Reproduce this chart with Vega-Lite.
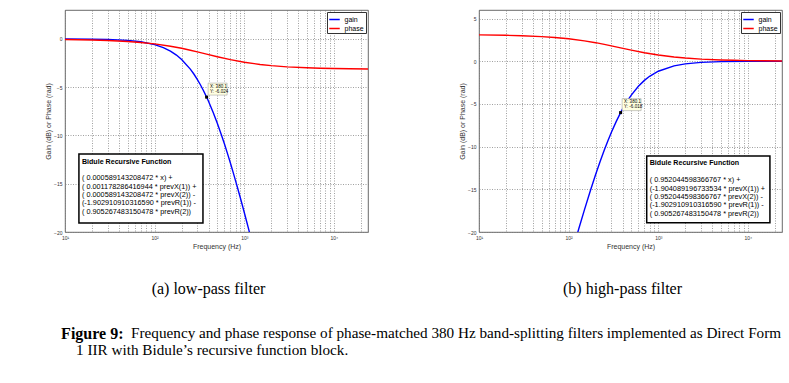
{
  "$schema": "https://vega.github.io/schema/vega-lite/v6.json",
  "background": "white",
  "padding": {"left": 44, "top": 9, "right": 5, "bottom": 5},
  "config": {
    "font": "Liberation Sans",
    "view": {"stroke": "#444", "strokeWidth": 0.8},
    "axis": {
      "domain": false, "ticks": false, "grid": true,
      "gridColor": "#777", "gridDash": [1, 1.5], "gridWidth": 0.7,
      "labelFontSize": 5, "labelColor": "#333", "labelPadding": 3,
      "titleFontSize": 7, "titleFontWeight": "normal", "titleColor": "#333", "titlePadding": 2,
      "labelOverlap": false, "labelFlush": false
    },
    "legend": {
      "orient": "top-right", "offset": 2, "padding": 1.5, "strokeColor": "#333", "fillColor": "white",
      "labelFontSize": 7, "symbolType": "stroke", "symbolSize": 110, "symbolStrokeWidth": 1.5,
      "rowPadding": 0, "labelOffset": 4, "cornerRadius": 0
    },
    "title": {"font": "Liberation Serif", "fontWeight": "normal", "color": "black", "fontSize": 16}
  },
  "datasets": {
    "lp": [
      {"f": 10, "v": -0.006, "s": "gain"}, {"f": 20, "v": -0.024, "s": "gain"}, {"f": 30, "v": -0.054, "s": "gain"},
      {"f": 50, "v": -0.149, "s": "gain"}, {"f": 70, "v": -0.290, "s": "gain"}, {"f": 100, "v": -0.582, "s": "gain"},
      {"f": 125, "v": -0.892, "s": "gain"}, {"f": 150, "v": -1.258, "s": "gain"}, {"f": 175, "v": -1.671, "s": "gain"},
      {"f": 200, "v": -2.124, "s": "gain"}, {"f": 250, "v": -3.124, "s": "gain"}, {"f": 275, "v": -3.658, "s": "gain"},
      {"f": 300, "v": -4.208, "s": "gain"}, {"f": 325, "v": -4.768, "s": "gain"}, {"f": 350, "v": -5.336, "s": "gain"},
      {"f": 380, "v": -6.021, "s": "gain"}, {"f": 400, "v": -6.477, "s": "gain"}, {"f": 450, "v": -7.613, "s": "gain"},
      {"f": 500, "v": -8.728, "s": "gain"}, {"f": 550, "v": -9.813, "s": "gain"}, {"f": 600, "v": -10.864, "s": "gain"},
      {"f": 650, "v": -11.879, "s": "gain"}, {"f": 700, "v": -12.856, "s": "gain"}, {"f": 750, "v": -13.796, "s": "gain"},
      {"f": 800, "v": -14.699, "s": "gain"}, {"f": 850, "v": -15.568, "s": "gain"}, {"f": 900, "v": -16.403, "s": "gain"},
      {"f": 950, "v": -17.207, "s": "gain"}, {"f": 1000, "v": -17.980, "s": "gain"}, {"f": 1050, "v": -18.726, "s": "gain"},
      {"f": 1100, "v": -19.444, "s": "gain"}, {"f": 1150, "v": -20.137, "s": "gain"},
      {"f": 10, "v": -0.053, "s": "phase"}, {"f": 20, "v": -0.105, "s": "phase"}, {"f": 30, "v": -0.158, "s": "phase"},
      {"f": 50, "v": -0.262, "s": "phase"}, {"f": 70, "v": -0.364, "s": "phase"}, {"f": 100, "v": -0.515, "s": "phase"},
      {"f": 150, "v": -0.752, "s": "phase"}, {"f": 200, "v": -0.969, "s": "phase"}, {"f": 250, "v": -1.164, "s": "phase"},
      {"f": 300, "v": -1.337, "s": "phase"}, {"f": 380, "v": -1.571, "s": "phase"}, {"f": 500, "v": -1.842, "s": "phase"},
      {"f": 700, "v": -2.147, "s": "phase"}, {"f": 1000, "v": -2.415, "s": "phase"}, {"f": 1500, "v": -2.645, "s": "phase"},
      {"f": 2000, "v": -2.766, "s": "phase"}, {"f": 3000, "v": -2.890, "s": "phase"}, {"f": 5000, "v": -2.990, "s": "phase"},
      {"f": 7000, "v": -3.033, "s": "phase"}, {"f": 10000, "v": -3.066, "s": "phase"}, {"f": 15000, "v": -3.091, "s": "phase"},
      {"f": 24000, "v": -3.110, "s": "phase"}
    ],
    "hp": [
      {"f": 125, "v": -20.21, "s": "gain"}, {"f": 130, "v": -19.595, "s": "gain"}, {"f": 150, "v": -17.406, "s": "gain"},
      {"f": 175, "v": -15.141, "s": "gain"}, {"f": 200, "v": -13.274, "s": "gain"}, {"f": 225, "v": -11.714, "s": "gain"},
      {"f": 250, "v": -10.398, "s": "gain"}, {"f": 275, "v": -9.277, "s": "gain"}, {"f": 300, "v": -8.314, "s": "gain"},
      {"f": 340, "v": -7.040, "s": "gain"}, {"f": 380, "v": -6.021, "s": "gain"}, {"f": 400, "v": -5.586, "s": "gain"},
      {"f": 450, "v": -4.676, "s": "gain"}, {"f": 500, "v": -3.960, "s": "gain"}, {"f": 600, "v": -2.929, "s": "gain"},
      {"f": 700, "v": -2.243, "s": "gain"}, {"f": 800, "v": -1.767, "s": "gain"}, {"f": 1000, "v": -1.172, "s": "gain"},
      {"f": 1500, "v": -0.540, "s": "gain"}, {"f": 2000, "v": -0.308, "s": "gain"}, {"f": 3000, "v": -0.138, "s": "gain"},
      {"f": 5000, "v": -0.050, "s": "gain"}, {"f": 10000, "v": -0.013, "s": "gain"}, {"f": 24000, "v": -0.002, "s": "gain"},
      {"f": 10, "v": 3.089, "s": "phase"}, {"f": 20, "v": 3.036, "s": "phase"}, {"f": 30, "v": 2.984, "s": "phase"},
      {"f": 50, "v": 2.880, "s": "phase"}, {"f": 70, "v": 2.777, "s": "phase"}, {"f": 100, "v": 2.627, "s": "phase"},
      {"f": 150, "v": 2.390, "s": "phase"}, {"f": 200, "v": 2.172, "s": "phase"}, {"f": 250, "v": 1.978, "s": "phase"},
      {"f": 300, "v": 1.805, "s": "phase"}, {"f": 380, "v": 1.571, "s": "phase"}, {"f": 500, "v": 1.300, "s": "phase"},
      {"f": 700, "v": 0.995, "s": "phase"}, {"f": 1000, "v": 0.727, "s": "phase"}, {"f": 1500, "v": 0.496, "s": "phase"},
      {"f": 2000, "v": 0.376, "s": "phase"}, {"f": 3000, "v": 0.252, "s": "phase"}, {"f": 5000, "v": 0.152, "s": "phase"},
      {"f": 7000, "v": 0.108, "s": "phase"}, {"f": 10000, "v": 0.076, "s": "phase"}, {"f": 15000, "v": 0.051, "s": "phase"},
      {"f": 24000, "v": 0.032, "s": "phase"}
    ],
    "tipA": [{"f": 380.1, "v": -6.024, "label": "X: 380.1\nY: -6.024"}],
    "tipB": [{"f": 380.1, "v": -6.018, "label": "X: 380.1\nY: -6.018"}],
    "boxA": [{"x1": 14.3, "x2": 346, "y1": -11.92, "y2": -19.07, "title": "Bidule Recursive Function",
      "body": "( 0.000589143208472 * x) +\n( 0.001178286416944 * prevX(1)) +\n( 0.000589143208472 * prevX(2)) -\n(-1.902910910316590 * prevR(1)) -\n( 0.905267483150478 * prevR(2))"}],
    "boxB": [{"x1": 743, "x2": 17600, "y1": -11.1, "y2": -18.91, "title": "Bidule Recursive Function",
      "body": "( 0.952044598366767 * x) +\n(-1.904089196733534 * prevX(1)) +\n( 0.952044598366767 * prevX(2)) -\n(-1.902910910316590 * prevR(1)) -\n( 0.905267483150478 * prevR(2))"}]
  },
  "title": {"text": "1 IIR with Bidule’s recursive function block.", "orient": "bottom", "anchor": "start", "frame": "bounds", "dx": 32, "offset": 1, "fontSize": 15.2},
  "vconcat": [
    {
      "title": {"text": "Frequency and phase response of phase-matched 380 Hz band-splitting filters implemented as Direct Form", "orient": "bottom", "anchor": "start", "frame": "bounds", "dx": 87, "offset": 0, "dy": -16, "fontSize": 15.2},
      "vconcat": [
        {
          "title": {"text": "Figure 9:", "orient": "bottom", "anchor": "start", "frame": "bounds", "dx": 17, "offset": 29, "fontWeight": "bold"},
          "spacing": 89,
          "resolve": {"scale": {"x": "independent", "y": "independent", "color": "independent"}, "legend": {"color": "independent"}},
          "hconcat": [
            {
              "width": 303, "height": 222,
              "title": {"text": "(a) low-pass filter", "orient": "bottom", "offset": 32, "dx": -8},
              "layer": [
                {
                  "data": {"name": "lp"},
                  "mark": {"type": "line", "clip": true, "strokeWidth": 1.4},
                  "encoding": {
                    "x": {"field": "f", "type": "quantitative", "title": "Frequency (Hz)",
                      "scale": {"type": "log", "domain": [10, 24000], "nice": false},
                      "axis": {"values": [10,20,30,40,50,60,70,80,90,100,200,300,400,500,600,700,800,900,1000,2000,3000,4000,5000,6000,7000,8000,9000,10000,20000],
                        "labelExpr": "datum.value == 10 ? '10¹' : datum.value == 100 ? '10²' : datum.value == 1000 ? '10³' : datum.value == 10000 ? '10⁴' : ''"}},
                    "y": {"field": "v", "type": "quantitative", "title": "Gain (dB) or Phase (rad)",
                      "scale": {"domain": [-20, 3], "nice": false, "zero": false},
                      "axis": {"values": [-20, -15, -10, -5, 0]}},
                    "color": {"field": "s", "type": "nominal", "title": null,
                      "scale": {"domain": ["gain", "phase"], "range": ["#0000ff", "#ff0000"]}}
                  }
                },
                {
                  "data": {"name": "tipA"},
                  "mark": {"type": "point", "shape": "M0.3,-2.8L4.1,-2.8L4.1,-0.4L0.3,-0.4Z", "size": 100, "filled": true, "fill": "#ffffe1", "stroke": "#999", "strokeWidth": 0.5, "opacity": 1},
                  "encoding": {"x": {"field": "f", "type": "quantitative"}, "y": {"field": "v", "type": "quantitative"}}
                },
                {
                  "data": {"name": "tipA"},
                  "mark": {"type": "point", "shape": "square", "size": 9, "filled": true, "color": "black", "opacity": 1},
                  "encoding": {"x": {"field": "f", "type": "quantitative"}, "y": {"field": "v", "type": "quantitative"}}
                },
                {
                  "data": {"name": "tipA"},
                  "mark": {"type": "text", "align": "left", "baseline": "alphabetic", "dx": 3.5, "dy": -9.4, "fontSize": 4.5, "lineBreak": "\n", "lineHeight": 5, "color": "black"},
                  "encoding": {"x": {"field": "f", "type": "quantitative"}, "y": {"field": "v", "type": "quantitative"}, "text": {"field": "label"}}
                },
                {
                  "data": {"name": "boxA"},
                  "mark": {"type": "rect", "fill": "white", "stroke": "black", "strokeWidth": 1.5},
                  "encoding": {"x": {"field": "x1", "type": "quantitative"}, "x2": {"field": "x2"}, "y": {"field": "y1", "type": "quantitative"}, "y2": {"field": "y2"}}
                },
                {
                  "data": {"name": "boxA"},
                  "mark": {"type": "text", "align": "left", "baseline": "alphabetic", "dx": 3, "dy": 9.6, "fontSize": 7.1, "fontWeight": "bold", "color": "black"},
                  "encoding": {"x": {"field": "x1", "type": "quantitative"}, "y": {"field": "y1", "type": "quantitative"}, "text": {"field": "title"}}
                },
                {
                  "data": {"name": "boxA"},
                  "mark": {"type": "text", "align": "left", "baseline": "alphabetic", "dx": 3, "dy": 26.3, "fontSize": 7.3, "lineBreak": "\n", "lineHeight": 8.4, "color": "black"},
                  "encoding": {"x": {"field": "x1", "type": "quantitative"}, "y": {"field": "y1", "type": "quantitative"}, "text": {"field": "body"}}
                }
              ]
            },
            {
              "width": 303, "height": 222,
              "title": {"text": "(b) high-pass filter", "orient": "bottom", "offset": 32, "dx": -8},
              "layer": [
                {
                  "data": {"name": "hp"},
                  "mark": {"type": "line", "clip": true, "strokeWidth": 1.4},
                  "encoding": {
                    "x": {"field": "f", "type": "quantitative", "title": "Frequency (Hz)",
                      "scale": {"type": "log", "domain": [10, 24000], "nice": false},
                      "axis": {"values": [10,20,30,40,50,60,70,80,90,100,200,300,400,500,600,700,800,900,1000,2000,3000,4000,5000,6000,7000,8000,9000,10000,20000],
                        "labelExpr": "datum.value == 10 ? '10¹' : datum.value == 100 ? '10²' : datum.value == 1000 ? '10³' : datum.value == 10000 ? '10⁴' : ''"}},
                    "y": {"field": "v", "type": "quantitative", "title": "Gain (dB) or Phase (rad)",
                      "scale": {"domain": [-20, 6], "nice": false, "zero": false},
                      "axis": {"values": [-20, -15, -10, -5, 0, 5]}},
                    "color": {"field": "s", "type": "nominal", "title": null,
                      "scale": {"domain": ["gain", "phase"], "range": ["#0000ff", "#ff0000"]}}
                  }
                },
                {
                  "data": {"name": "tipB"},
                  "mark": {"type": "point", "shape": "M0.3,-2.8L4.1,-2.8L4.1,-0.4L0.3,-0.4Z", "size": 100, "filled": true, "fill": "#ffffe1", "stroke": "#999", "strokeWidth": 0.5, "opacity": 1},
                  "encoding": {"x": {"field": "f", "type": "quantitative"}, "y": {"field": "v", "type": "quantitative"}}
                },
                {
                  "data": {"name": "tipB"},
                  "mark": {"type": "point", "shape": "square", "size": 9, "filled": true, "color": "black", "opacity": 1},
                  "encoding": {"x": {"field": "f", "type": "quantitative"}, "y": {"field": "v", "type": "quantitative"}}
                },
                {
                  "data": {"name": "tipB"},
                  "mark": {"type": "text", "align": "left", "baseline": "alphabetic", "dx": 3.5, "dy": -9.4, "fontSize": 4.5, "lineBreak": "\n", "lineHeight": 5, "color": "black"},
                  "encoding": {"x": {"field": "f", "type": "quantitative"}, "y": {"field": "v", "type": "quantitative"}, "text": {"field": "label"}}
                },
                {
                  "data": {"name": "boxB"},
                  "mark": {"type": "rect", "fill": "white", "stroke": "black", "strokeWidth": 1.5},
                  "encoding": {"x": {"field": "x1", "type": "quantitative"}, "x2": {"field": "x2"}, "y": {"field": "y1", "type": "quantitative"}, "y2": {"field": "y2"}}
                },
                {
                  "data": {"name": "boxB"},
                  "mark": {"type": "text", "align": "left", "baseline": "alphabetic", "dx": 3, "dy": 9.3, "fontSize": 7.1, "fontWeight": "bold", "color": "black"},
                  "encoding": {"x": {"field": "x1", "type": "quantitative"}, "y": {"field": "y1", "type": "quantitative"}, "text": {"field": "title"}}
                },
                {
                  "data": {"name": "boxB"},
                  "mark": {"type": "text", "align": "left", "baseline": "alphabetic", "dx": 3, "dy": 26.3, "fontSize": 7.3, "lineBreak": "\n", "lineHeight": 8.4, "color": "black"},
                  "encoding": {"x": {"field": "x1", "type": "quantitative"}, "y": {"field": "y1", "type": "quantitative"}, "text": {"field": "body"}}
                }
              ]
            }
          ]
        }
      ]
    }
  ]
}
